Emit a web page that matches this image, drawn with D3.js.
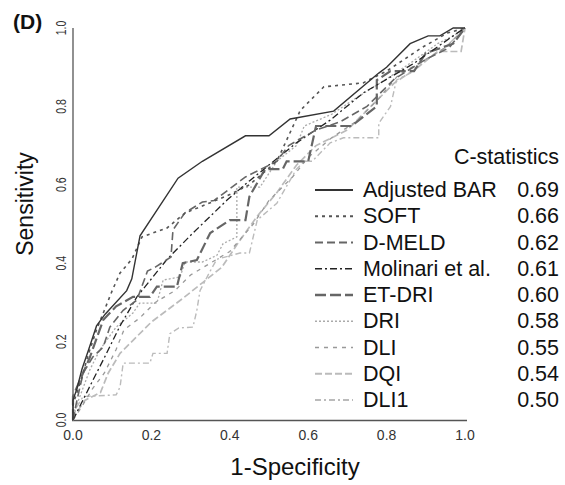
<!DOCTYPE html>
<html>
<head>
<meta charset="utf-8">
<script src="https://cdn.jsdelivr.net/npm/d3@7"></script>
<style>
  body { margin: 0; background: #fff; }
  text { font-family: "Liberation Sans", Arial, sans-serif; fill: #111; }
</style>
</head>
<body>
<div id="chart"></div>
<script>
// ROC curves, points are [1-specificity, sensitivity]
var adjBar = [[0,0],[0,0.05],[0.01,0.08],[0.023,0.13],[0.04,0.18],[0.06,0.24],[0.082,0.27],[0.137,0.33],
  [0.15,0.36],[0.171,0.47],[0.268,0.617],[0.33,0.66],[0.44,0.725],[0.50,0.725],[0.554,0.768],[0.665,0.788],
  [0.78,0.885],[0.80,0.9],[0.86,0.96],[0.906,0.98],[0.936,0.98],[0.97,1],[1,1]];
var soft = [[0,0],[0,0.04],[0.02,0.1],[0.04,0.17],[0.06,0.23],[0.08,0.28],[0.10,0.33],[0.12,0.375],[0.15,0.41],
  [0.176,0.467],[0.24,0.49],[0.286,0.528],[0.34,0.55],[0.40,0.575],[0.45,0.60],[0.52,0.66],[0.58,0.79],
  [0.64,0.85],[0.74,0.86],[0.80,0.89],[0.89,0.95],[0.955,0.987],[1,1]];
var dmeld = [[0,0],[0.01,0.05],[0.026,0.12],[0.05,0.16],[0.077,0.186],[0.094,0.237],[0.128,0.28],[0.163,0.306],
  [0.19,0.38],[0.21,0.39],[0.25,0.416],[0.255,0.485],[0.285,0.528],[0.33,0.556],[0.36,0.56],[0.44,0.62],
  [0.52,0.66],[0.55,0.70],[0.62,0.74],[0.68,0.76],[0.75,0.80],[0.82,0.87],[0.90,0.92],[0.96,0.95],[1,1]];
var molinari = [[0,0],[0.02,0.04],[0.05,0.1],[0.077,0.153],[0.12,0.24],[0.163,0.314],[0.24,0.41],[0.306,0.477],
  [0.393,0.561],[0.45,0.61],[0.57,0.707],[0.656,0.765],[0.74,0.834],[0.87,0.91],[0.98,0.987],[1,1]];
var etdri = [[0,0],[0,0.06],[0.043,0.16],[0.077,0.255],[0.11,0.29],[0.153,0.314],[0.196,0.314],[0.214,0.34],
  [0.265,0.34],[0.28,0.40],[0.316,0.408],[0.35,0.477],[0.40,0.51],[0.44,0.51],[0.45,0.57],[0.49,0.64],
  [0.535,0.64],[0.545,0.66],[0.60,0.66],[0.62,0.75],[0.71,0.75],[0.775,0.80],[0.775,0.867],[0.81,0.89],
  [0.87,0.89],[0.90,0.936],[0.97,0.96],[1,1]];
var dri = [[0,0],[0.01,0.04],[0.043,0.128],[0.069,0.18],[0.11,0.237],[0.153,0.273],[0.17,0.298],[0.214,0.298],
  [0.23,0.357],[0.273,0.365],[0.286,0.403],[0.33,0.403],[0.367,0.42],[0.383,0.45],[0.418,0.467],[0.418,0.594],
  [0.477,0.594],[0.52,0.66],[0.57,0.70],[0.59,0.75],[0.66,0.78],[0.72,0.82],[0.80,0.87],[0.86,0.91],
  [0.93,0.96],[0.97,0.98],[1,1]];
var dli = [[0,0],[0.02,0.03],[0.05,0.08],[0.08,0.12],[0.11,0.18],[0.13,0.23],[0.17,0.26],[0.21,0.30],[0.26,0.33],
  [0.30,0.37],[0.35,0.40],[0.40,0.43],[0.46,0.50],[0.50,0.56],[0.56,0.62],[0.60,0.67],[0.66,0.72],[0.72,0.76],
  [0.78,0.82],[0.83,0.88],[0.90,0.92],[0.95,0.95],[1,1]];
var dqi = [[0,0],[0.01,0.02],[0.03,0.05],[0.07,0.07],[0.09,0.12],[0.12,0.17],[0.16,0.21],[0.2,0.25],[0.24,0.28],
  [0.28,0.31],[0.33,0.35],[0.38,0.39],[0.42,0.45],[0.47,0.52],[0.52,0.58],[0.57,0.65],[0.62,0.70],[0.70,0.74],
  [0.76,0.80],[0.82,0.86],[0.88,0.90],[0.93,0.94],[0.99,0.94],[1,1]];
var dli1 = [[0,0],[0,0.018],[0.026,0.06],[0.11,0.064],[0.12,0.084],[0.128,0.145],[0.196,0.145],[0.204,0.17],
  [0.24,0.17],[0.247,0.22],[0.27,0.235],[0.306,0.237],[0.316,0.28],[0.324,0.33],[0.35,0.38],[0.367,0.41],
  [0.426,0.426],[0.45,0.426],[0.47,0.51],[0.52,0.553],[0.57,0.64],[0.59,0.66],[0.61,0.66],[0.656,0.707],
  [0.69,0.72],[0.78,0.72],[0.78,0.757],[0.81,0.80],[0.825,0.867],[0.87,0.89],[0.90,0.918],[0.95,0.95],[1,1]];

var names = ['Adjusted BAR', 'SOFT', 'D-MELD', 'Molinari et al.', 'ET-DRI', 'DRI', 'DLI', 'DQI', 'DLI1'];
var cstats = ['0.69', '0.66', '0.62', '0.61', '0.60', '0.58', '0.55', '0.54', '0.50'];
var curves = [adjBar, soft, dmeld, molinari, etdri, dri, dli, dqi, dli1];
var ticks = [0, 0.2, 0.4, 0.6, 0.8, 1.0];

var styles = [
  {color: '#333', width: 1.4, dash: null},
  {color: '#555', width: 1.6, dash: '3,4'},
  {color: '#666', width: 1.6, dash: '8,4'},
  {color: '#222', width: 1.3, dash: '7,3,2,3'},
  {color: '#666', width: 2.2, dash: '11,4'},
  {color: '#aaa', width: 1.3, dash: '2,2'},
  {color: '#999', width: 1.3, dash: '4,5'},
  {color: '#bbb', width: 1.7, dash: '7,3'},
  {color: '#bbb', width: 1.4, dash: '6,3,2,3'}
];

var W = 565, H = 485;
var svg = d3.select('#chart').append('svg').attr('width', W).attr('height', H);

var x = d3.scaleLinear().domain([0, 1]).range([73, 465]);
var y = d3.scaleLinear().domain([0, 1]).range([420, 28]);

// axes: just the lines plus labels, no tick marks
svg.append('line').attr('x1', 73).attr('x2', 73).attr('y1', 28).attr('y2', 421)
  .attr('stroke', '#555').attr('stroke-width', 1.3);
svg.append('line').attr('x1', 72).attr('x2', 467).attr('y1', 420.5).attr('y2', 420.5)
  .attr('stroke', '#555').attr('stroke-width', 1.3);

svg.selectAll('text.xtick').data(ticks).enter()
  .append('text').attr('class', 'xtick')
    .attr('x', function(d) { return x(d); })
    .attr('y', 440)
    .attr('text-anchor', 'middle')
    .style('font-size', '14px')
    .style('fill', '#333')
    .text(function(d) { return d.toFixed(1); });

svg.selectAll('text.ytick').data(ticks).enter()
  .append('text').attr('class', 'ytick')
    .attr('transform', function(d) { return 'translate(66,' + y(d) + ') rotate(-90) scale(0.75,1)'; })
    .attr('text-anchor', 'middle')
    .style('font-size', '14px')
    .style('fill', '#333')
    .text(function(d) { return d.toFixed(1); });

svg.append('text').attr('x', 295).attr('y', 475).attr('text-anchor', 'middle')
  .style('font-size', '24px').text('1-Specificity');
svg.append('text').attr('transform', 'translate(33,204) rotate(-90)').attr('text-anchor', 'middle')
  .style('font-size', '23px').text('Sensitivity');
svg.append('text').attr('x', 13).attr('y', 29)
  .style('font-size', '21px').style('font-weight', 'bold').text('(D)');

var line = d3.line()
  .x(function(d) { return x(d[0]); })
  .y(function(d) { return y(d[1]); });

// draw light curves first so the dark ones sit on top
var order = [8, 7, 6, 5, 4, 3, 2, 1, 0];
svg.selectAll('path.roc').data(order).enter()
  .append('path').attr('class', 'roc')
    .attr('d', function(i) { return line(curves[i]); })
    .attr('fill', 'none')
    .attr('stroke', function(i) { return styles[i].color; })
    .attr('stroke-width', function(i) { return styles[i].width; })
    .attr('stroke-dasharray', function(i) { return styles[i].dash; });

// legend
var lg = svg.append('g');
lg.append('text').attr('x', 559).attr('y', 164).attr('text-anchor', 'end')
  .style('font-size', '21.5px').text('C-statistics');
var rows = lg.selectAll('g.row').data(names).enter()
  .append('g').attr('class', 'row')
    .attr('transform', function(d, i) { return 'translate(0,' + (197 + i * 26.25) + ')'; });
rows.append('line')
  .attr('x1', 315).attr('x2', 353).attr('y1', -7).attr('y2', -7)
  .attr('stroke', function(d, i) { return styles[i].color; })
  .attr('stroke-width', function(d, i) { return styles[i].width + 0.4; })
  .attr('stroke-dasharray', function(d, i) { return styles[i].dash; });
rows.append('text').attr('x', 363).style('font-size', '21.5px')
  .text(function(d) { return d; });
rows.append('text').attr('x', 559).attr('text-anchor', 'end').style('font-size', '21.5px')
  .text(function(d, i) { return cstats[i]; });
</script>
</body>
</html>
